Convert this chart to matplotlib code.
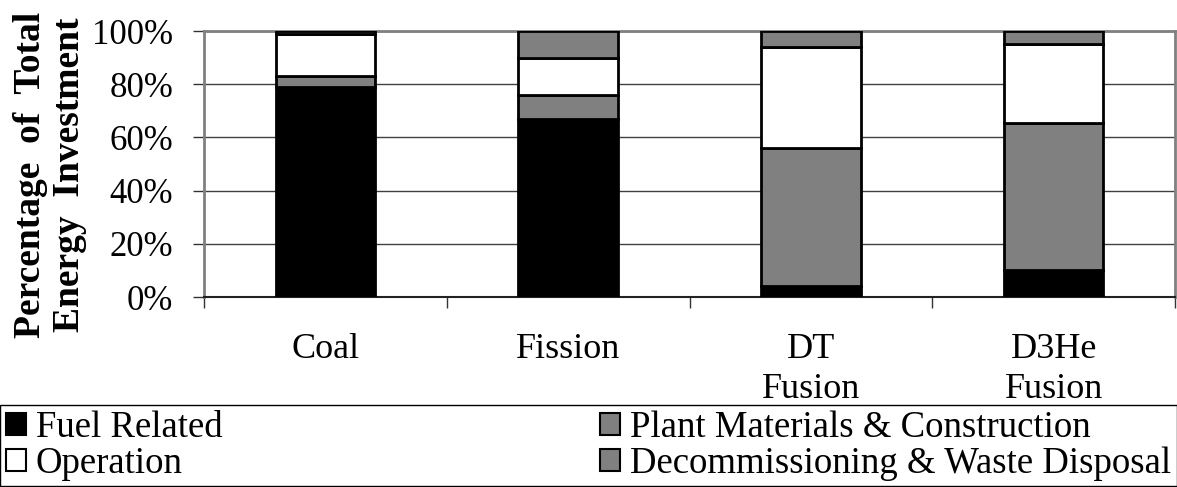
import matplotlib
matplotlib.use("Agg")
import matplotlib.pyplot as plt
import numpy as np
from matplotlib.patches import Patch

categories = ["Coal", "Fission", "DT\nFusion", "D3He\nFusion"]
series_names = ["Fuel Related", "Plant Materials & Construction", "Operation",
                "Decommissioning & Waste Disposal"]
fuel = [79, 67, 4, 10]
plant = [4, 9, 52, 55.5]
operation = [16, 14, 38, 29.5]
decom = [1, 10, 6, 5]
yticks = [0, 20, 40, 60, 80, 100]
ytick_labels = ["0%", "20%", "40%", "60%", "80%", "100%"]

colors = {"Fuel Related": "black",
          "Plant Materials & Construction": "#808080",
          "Operation": "white",
          "Decommissioning & Waste Disposal": "#808080"}

plt.rcParams["font.family"] = ["Liberation Serif", "DejaVu Serif"]

fig = plt.figure(figsize=(11.77, 4.87), dpi=100)
ax = fig.add_axes([204/1177, (487-297)/487, (1175-204)/1177, (297-31)/487])

x = np.arange(len(categories))
bottom = np.zeros(len(categories))
for name, vals in zip(series_names, [fuel, plant, operation, decom]):
    v = np.array(vals, dtype=float)
    ax.bar(x, v, width=0.41, bottom=bottom, color=colors[name],
           edgecolor="black", linewidth=2, zorder=3)
    bottom += v

ax.set_xlim(-0.5, 3.5)
ax.set_ylim(0, 100)
ax.set_yticks(yticks)
ax.set_yticklabels(ytick_labels, fontsize=25)
ax.set_xticks(x)
ax.set_xticklabels(categories, fontsize=26, linespacing=1.27)
ax.set_xticks(np.arange(-0.5, 4.0, 1.0), minor=True)
ax.tick_params(axis="x", which="major", length=0, pad=26)
ax.tick_params(axis="x", which="minor", length=8, width=1, color="#333333", direction="out")
ax.tick_params(axis="y", length=8, width=1, direction="out", pad=14, color="#333333")
ax.yaxis.grid(True, color="#404040", linewidth=1, zorder=0)
ax.set_axisbelow(True)
for s in ["top", "right", "left"]:
    ax.spines[s].set_color("#808080")
    ax.spines[s].set_linewidth(2)
ax.spines["bottom"].set_color("#222222")
ax.spines["bottom"].set_linewidth(1.5)

fig.text(50/1177, (487-12)/487, "Percentage  of  Total\nEnergy  Investment", rotation=90,
         fontsize=27, fontweight="bold", ha="center", va="top", linespacing=1.16)

leg_handles = [Patch(facecolor=colors[n], edgecolor="black", linewidth=1.5) for n in series_names]
order = [0, 2, 1, 3]
leg = fig.legend([leg_handles[i] for i in order], [series_names[i] for i in order],
                 ncol=2, loc="upper left", bbox_to_anchor=(0.0, 0.0, 1.0, (487-405)/487),
                 mode="expand", fontsize=26.5, frameon=True, fancybox=False,
                 edgecolor="black", framealpha=1, handlelength=0.55, handleheight=0.55,
                 handletextpad=0.27, borderpad=0.15, labelspacing=0.03, borderaxespad=0.0,
                 columnspacing=1.0)
leg.get_frame().set_linewidth(1)

fig.savefig("out.png", dpi=100)
